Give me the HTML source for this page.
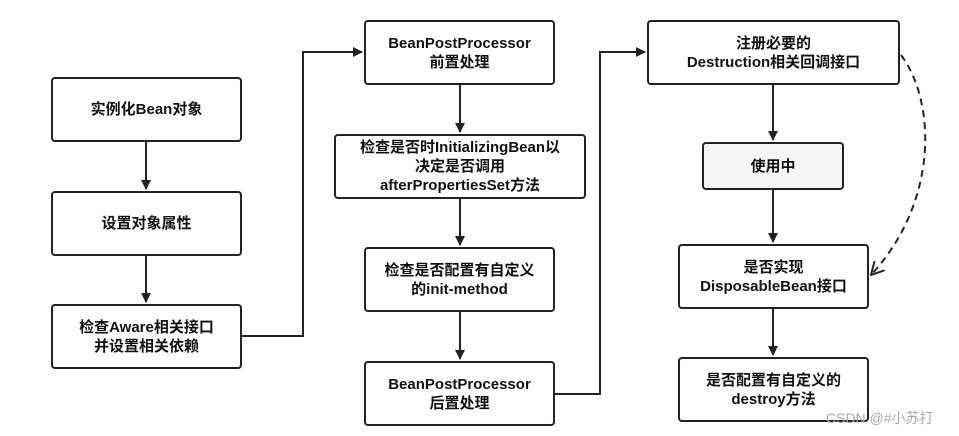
<!DOCTYPE html>
<html><head><meta charset="utf-8"><style>
body{margin:0;background:#fff;width:959px;height:436px;overflow:hidden;position:relative;font-family:"Liberation Sans","Noto Sans CJK SC",sans-serif;}
.b{position:absolute;box-sizing:border-box;border:2px solid #222;border-radius:4px;background:#fff;display:flex;align-items:center;justify-content:center;text-align:center;font-weight:bold;font-size:15px;line-height:19px;color:#111;}
svg{position:absolute;left:0;top:0}
</style></head><body>
<svg width="959" height="436">
<defs><marker id="a" markerWidth="10" markerHeight="10" refX="9" refY="5" orient="auto" markerUnits="userSpaceOnUse"><path d="M0,0 L10,5 L0,10 z" fill="#222"/></marker>
<marker id="a2" markerWidth="14" markerHeight="14" refX="13" refY="7" orient="auto" markerUnits="userSpaceOnUse"><path d="M0,0 L13,7 L0,14" fill="none" stroke="#222" stroke-width="2"/></marker></defs>
<g stroke="#222" stroke-width="2" fill="none">
<path d="M146 142 V189" marker-end="url(#a)"/>
<path d="M146 256 V302" marker-end="url(#a)"/>
<path d="M242 336 H303 V52 H362" marker-end="url(#a)"/>
<path d="M460 85 V132" marker-end="url(#a)"/>
<path d="M460 199 V245" marker-end="url(#a)"/>
<path d="M460 312 V359" marker-end="url(#a)"/>
<path d="M555 394 H600 V52 H645" marker-end="url(#a)"/>
<path d="M773 85 V140" marker-end="url(#a)"/>
<path d="M773 190 V242" marker-end="url(#a)"/>
<path d="M773 309 V355" marker-end="url(#a)"/>
<path d="M901 55 C935 100 940 200 871 275" stroke-dasharray="7,5" marker-end="url(#a2)"/>
</g></svg>
<div class="b" style="left:51px;top:77px;width:191px;height:65px">实例化Bean对象</div>
<div class="b" style="left:51px;top:191px;width:191px;height:65px">设置对象属性</div>
<div class="b" style="left:51px;top:304px;width:191px;height:65px">检查Aware相关接口<br>并设置相关依赖</div>
<div class="b" style="left:364px;top:20px;width:191px;height:65px">BeanPostProcessor<br>前置处理</div>
<div class="b" style="left:334px;top:134px;width:252px;height:65px">检查是否时InitializingBean以<br>决定是否调用<br>afterPropertiesSet方法</div>
<div class="b" style="left:364px;top:247px;width:191px;height:65px">检查是否配置有自定义<br>的init-method</div>
<div class="b" style="left:364px;top:361px;width:191px;height:65px">BeanPostProcessor<br>后置处理</div>
<div class="b" style="left:647px;top:20px;width:253px;height:65px">注册必要的<br>Destruction相关回调接口</div>
<div class="b" style="left:702px;top:142px;width:142px;height:48px;background:#f5f5f5">使用中</div>
<div class="b" style="left:678px;top:244px;width:191px;height:65px">是否实现<br>DisposableBean接口</div>
<div class="b" style="left:678px;top:357px;width:191px;height:65px">是否配置有自定义的<br>destroy方法</div>
<div style="position:absolute;left:826px;top:408px;font-size:14px;color:#aaa">CSDN @#小苏打</div>
</body></html>
